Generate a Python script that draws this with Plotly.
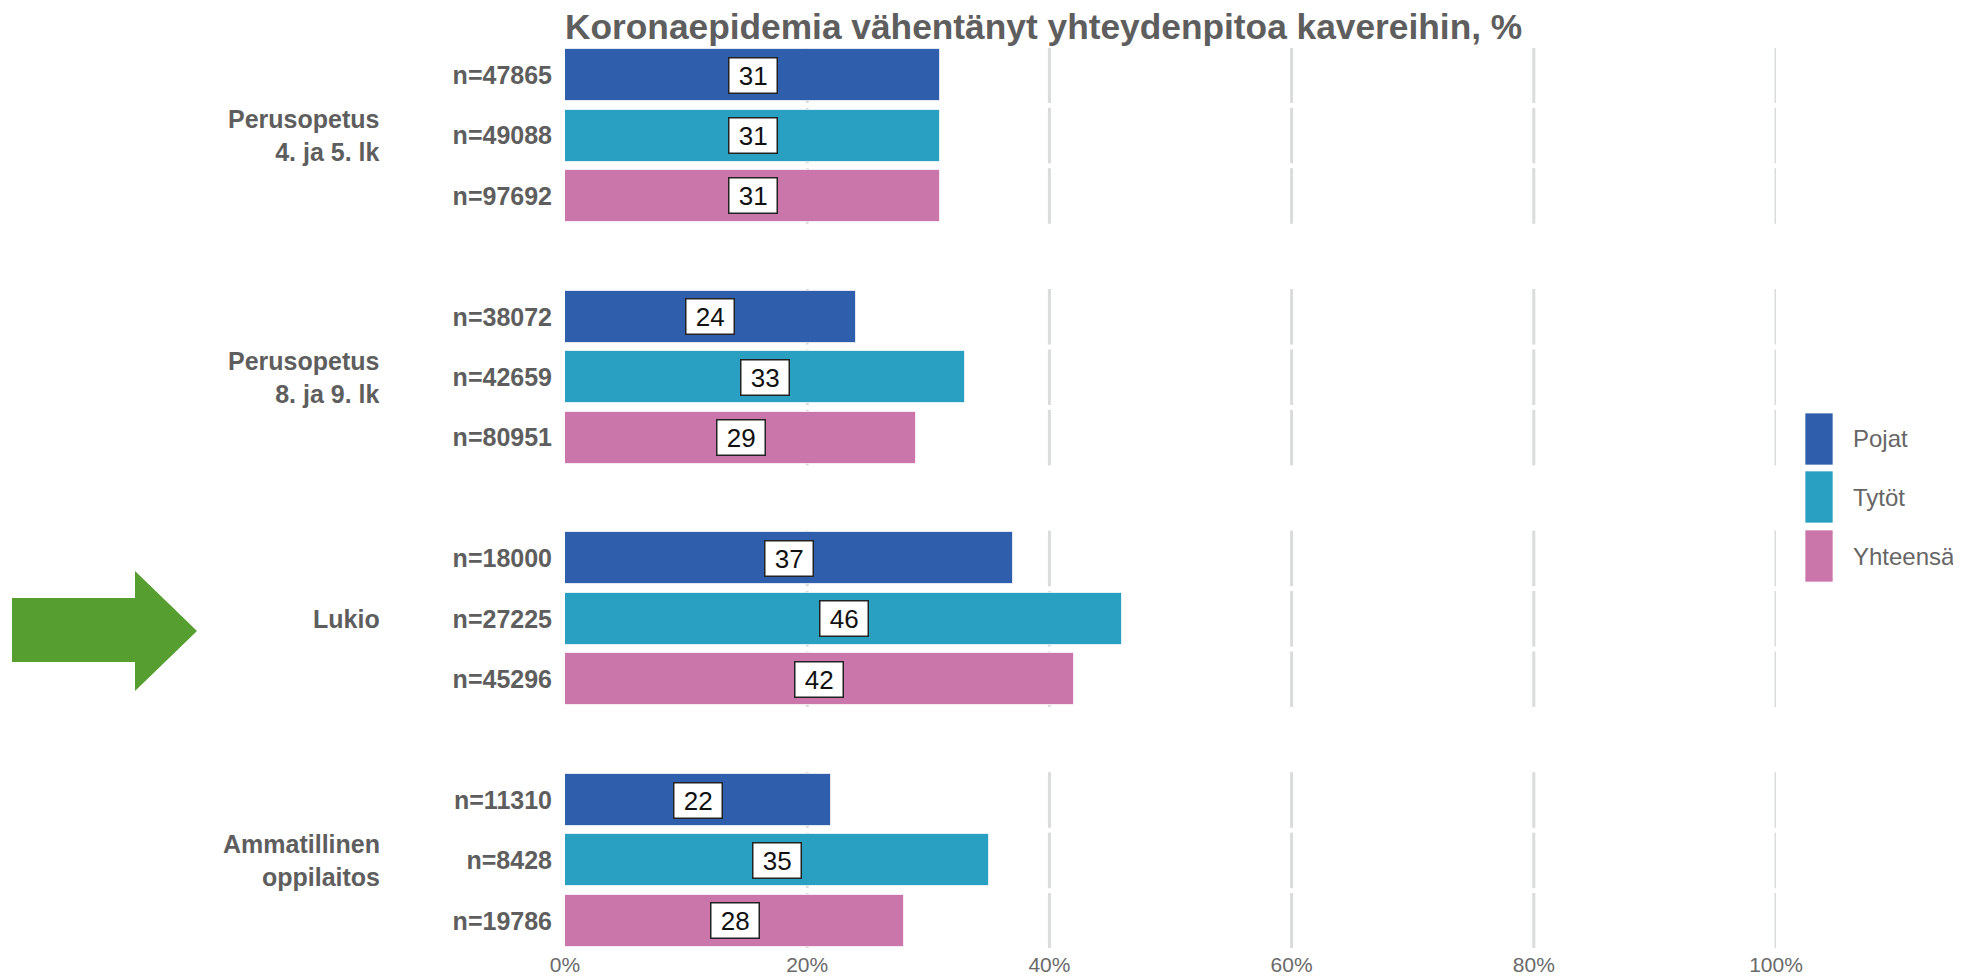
import plotly.graph_objects as go

# ---- data ----
groups = ["Perusopetus<br>4. ja 5. lk", "Perusopetus<br>8. ja 9. lk", "Lukio", "Ammatillinen<br>oppilaitos"]
series = ["Pojat", "Tytöt", "Yhteensä"]
pojat = [31, 24, 37, 22]
tytot = [31, 33, 46, 35]
yhteensa = [31, 29, 42, 28]
n_pojat = [47865, 38072, 18000, 11310]
n_tytot = [49088, 42659, 27225, 8428]
n_yhteensa = [97692, 80951, 45296, 19786]
xticks = [0, 20, 40, 60, 80, 100]
xticktext = ["0%", "20%", "40%", "60%", "80%", "100%"]
title = "Koronaepidemia vähentänyt yhteydenpitoa kavereihin, %"
colors = ["#2F5FAC", "#29A0C2", "#CA76AA"]

values = [pojat, tytot, yhteensa]
ns = [n_pojat, n_tytot, n_yhteensa]

# ---- layout geometry (window pixels; page body has an 8px margin) ----
OX, OY = 8, 8
W, H = 1961 - OX, 977 - OY
PL, PT, PW, PH = 565, 48, 1211, 900          # plot area in window pixels
ML, MT = PL - OX, PT - OY
MR, MB = W - ML - PW, H - MT - PH
FONT = "Liberation Sans, Arial, sans-serif"
GRAY = "#5E5E5E"


def px(x):
    return (x - PL) / PW


def py(y):
    return 1 - (y - PT) / PH


def row(g, s):
    return g * 4 + s


fig = go.Figure()
for s, name in enumerate(series):
    ys = [row(g, s) for g in range(len(groups))]
    fig.add_trace(go.Bar(
        x=values[s], y=ys, orientation="h", name=name,
        marker=dict(color=colors[s], line=dict(color="rgba(255,255,255,0.7)", width=1)),
        width=0.86, showlegend=False, hoverinfo="x+name",
    ))

annotations = []
shapes = []
tickvals, ticktext = [], []
for g in range(len(groups)):
    for s in range(len(series)):
        r = row(g, s)
        v = values[s][g]
        tickvals.append(r)
        ticktext.append(f"n={ns[s][g]}")
        annotations.append(dict(
            x=v / 2, y=r, xref="x", yref="y", text=f" {v} ", showarrow=False,
            font=dict(family=FONT, size=26, color="#111111"),
            bgcolor="white", bordercolor="#222222", borderwidth=1.5, borderpad=2,
        ))
        for t in xticks[1:]:
            shapes.append(dict(
                type="line", xref="x", yref="y", x0=t, x1=t, y0=r - 0.46, y1=r + 0.46,
                line=dict(color="#DADCDC", width=3), layer="below",
            ))
    annotations.append(dict(
        x=px(382), y=row(g, 1), xref="paper", yref="y", text=f"<b>{groups[g]}</b>",
        showarrow=False, xanchor="right", align="right",
        font=dict(family=FONT, size=25, color=GRAY),
    ))

# manual legend
leg_y = [439, 497, 556]
for s, name in enumerate(series):
    shapes.append(dict(
        type="rect", xref="paper", yref="paper",
        x0=px(1805), x1=px(1833), y0=py(leg_y[s] + 26), y1=py(leg_y[s] - 26),
        fillcolor=colors[s], line=dict(color="rgba(255,255,255,0.7)", width=1),
    ))
    annotations.append(dict(
        x=px(1851), y=py(leg_y[s]), xref="paper", yref="paper", text=name,
        showarrow=False, xanchor="left", yanchor="middle",
        font=dict(family=FONT, size=24, color="#666666"),
    ))

# green arrow
pts = [(12, 598), (135, 598), (135, 571), (197, 631), (135, 691), (135, 662), (12, 662)]
path = "M " + " L ".join(f"{px(a):.5f},{py(b):.5f}" for a, b in pts) + " Z"
shapes.append(dict(type="path", xref="paper", yref="paper", path=path,
                   fillcolor="#559E2F", line=dict(width=0)))

fig.update_layout(
    width=W, height=H,
    margin=dict(l=ML, r=MR, t=MT, b=MB, autoexpand=False),
    paper_bgcolor="white", plot_bgcolor="white",
    title=dict(text=f"<b>{title}</b>", x=px(565), xanchor="left", xref="paper",
               y=1 - (27 - OY) / H, yanchor="middle", yref="container",
               font=dict(family=FONT, size=35.3, color=GRAY)),
    xaxis=dict(range=[0, 100], tickvals=xticks, ticktext=xticktext, showgrid=False,
               zeroline=False, showline=False, ticks="", ticklabelstandoff=2,
               automargin=False,
               tickfont=dict(family=FONT, size=21, color="#6A6A6A")),
    yaxis=dict(range=[14.45, -0.45], tickvals=tickvals, ticktext=ticktext, showgrid=False,
               zeroline=False, showline=False, ticks="", ticklabelstandoff=12,
               automargin=False,
               tickfont=dict(family=FONT, size=25, color=GRAY, weight="bold")),
    annotations=annotations, shapes=shapes, bargap=0,
)
fig.write_html("out.html")
